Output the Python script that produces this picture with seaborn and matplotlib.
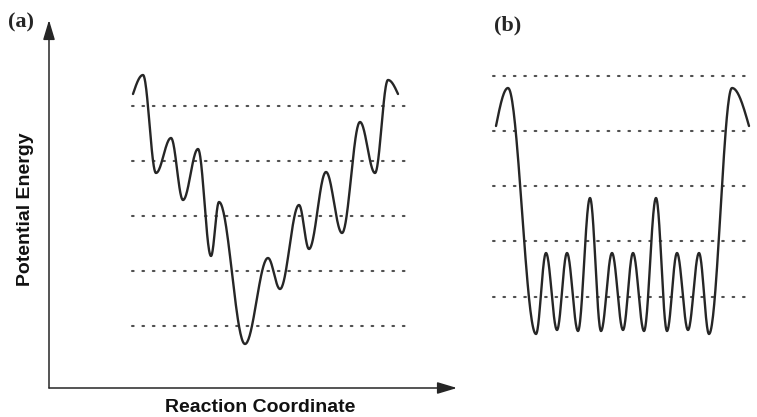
import numpy as np
import pandas as pd
import matplotlib
matplotlib.use("Agg")
import matplotlib.pyplot as plt
import seaborn as sns

sns.set_theme(style="white")
plt.rcParams['font.family'] = ['Liberation Sans', 'DejaVu Sans']

# ---- data: panel (a) rugged funnel landscape (extrema of the curve) ----
a_x = [84, 94, 107, 122, 134, 149, 162, 170, 196, 219, 231, 250, 260, 277, 293, 311, 326, 339, 349]
a_e = [294, 313, 215, 250, 188, 239, 132, 186, 44, 130, 99, 183, 139, 216, 155, 266, 215, 308, 294]
a_levels = [282, 227, 172, 117, 62]
a_level_span = [83, 356]

# ---- data: panel (b) flat golf-course-like landscape (extrema) ----
b_x = [36, 48, 76, 86, 97, 107, 118, 130, 141, 152, 163, 173, 184, 196, 207, 217, 228, 239, 249, 272, 289]
b_e = [262, 300, 54, 135, 58, 135, 57, 190, 57, 135, 58, 135, 57, 190, 57, 135, 58, 135, 54, 300, 262]
b_levels = [312, 257, 202, 147, 91]
b_level_span = [33, 293]

panel_labels = ["(a)", "(b)"]
x_label = "Reaction Coordinate"
y_label = "Potential Energy"


def smooth_through_extrema(xs, es, n=40):
    """Join consecutive extrema with half-cosine arcs (zero slope at extrema);
    first and last segments use quarter waves so the free ends keep a slope."""
    X, Y = [], []
    m = len(xs) - 1
    for i in range(m):
        t = np.linspace(0, 1, n, endpoint=(i == m - 1))
        x0, x1, y0, y1 = xs[i], xs[i + 1], es[i], es[i + 1]
        if i == 0:
            s = np.sin(np.pi * t / 2)
        elif i == m - 1:
            s = 1 - np.cos(np.pi * t / 2)
        else:
            s = (1 - np.cos(np.pi * t)) / 2
        X.append(x0 + (x1 - x0) * t)
        Y.append(y0 + (y1 - y0) * s)
    return np.concatenate(X), np.concatenate(Y)


W, H = 757, 417
fig = plt.figure(figsize=(W / 100, H / 100), dpi=100)
fig.patch.set_facecolor("white")

line_col = "#262626"
dot_col = "#505050"

# panel (a)
axa = fig.add_axes([49 / W, 29 / H, 408 / W, 368 / H])
axa.set_xlim(0, 408)
axa.set_ylim(0, 368)
axa.axis("off")
for lv in a_levels:
    axa.plot(a_level_span, [lv, lv], color=dot_col, lw=1.5, linestyle=(0, (0.8, 4.2)),
             solid_capstyle="round", dash_capstyle="round")
xa, ya = smooth_through_extrema(a_x, a_e)
sns.lineplot(x=xa, y=ya, ax=axa, sort=False, estimator=None, color=line_col, lw=1.7)
arrow = dict(arrowstyle="-|>,head_length=1.0,head_width=0.3", color=line_col, lw=1.1,
             shrinkA=0, shrinkB=0)
axa.annotate("", xy=(0, 1), xytext=(0, 0), xycoords="axes fraction",
             arrowprops=arrow, annotation_clip=False)
axa.annotate("", xy=(1, 0), xytext=(0, 0), xycoords="axes fraction",
             arrowprops=arrow, annotation_clip=False)

# panel (b)
axb = fig.add_axes([460 / W, 29 / H, 297 / W, 368 / H])
axb.set_xlim(0, 297)
axb.set_ylim(0, 368)
axb.axis("off")
for lv in b_levels:
    axb.plot(b_level_span, [lv, lv], color=dot_col, lw=1.5, linestyle=(0, (0.8, 4.2)),
             solid_capstyle="round", dash_capstyle="round")
xb, yb = smooth_through_extrema(b_x, b_e)
sns.lineplot(x=xb, y=yb, ax=axb, sort=False, estimator=None, color=line_col, lw=1.7)

# texts
fig.text(25 / W, 1 - 209 / H, y_label, rotation=90, ha="center", va="center",
         fontsize=14, fontweight="bold", color="#111111")
fig.text(260 / W, 1 - 408 / H, x_label, ha="center", va="center",
         fontsize=14, fontweight="bold", color="#111111")
fig.text(21 / W, 1 - 22 / H, panel_labels[0], ha="center", va="center",
         fontsize=16, fontweight="bold", family=["Liberation Serif", "DejaVu Serif"])
fig.text(508 / W, 1 - 25 / H, panel_labels[1], ha="center", va="center",
         fontsize=16, fontweight="bold", family=["Liberation Serif", "DejaVu Serif"])

fig.savefig("out.png", dpi=100, facecolor="white")
